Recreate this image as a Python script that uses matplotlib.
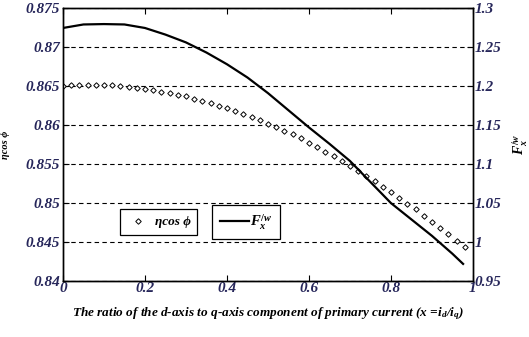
import numpy as np
import matplotlib
matplotlib.use("Agg")
import matplotlib.pyplot as plt
from matplotlib.lines import Line2D

plt.rcParams['font.family'] = ['Liberation Serif', 'DejaVu Serif']
plt.rcParams['mathtext.fontset'] = 'custom'
plt.rcParams['mathtext.it'] = 'Liberation Serif:italic:bold'
plt.rcParams['mathtext.rm'] = 'Liberation Serif:bold'
plt.rcParams['mathtext.bf'] = 'Liberation Serif:bold'

# eta*cos(phi) series (left axis), x = 0 .. 0.98 step 0.02
x_eta = [0.00, 0.02, 0.04, 0.06, 0.08, 0.10, 0.12, 0.14, 0.16, 0.18,
         0.20, 0.22, 0.24, 0.26, 0.28, 0.30, 0.32, 0.34, 0.36, 0.38,
         0.40, 0.42, 0.44, 0.46, 0.48, 0.50, 0.52, 0.54, 0.56, 0.58,
         0.60, 0.62, 0.64, 0.66, 0.68, 0.70, 0.72, 0.74, 0.76, 0.78,
         0.80, 0.82, 0.84, 0.86, 0.88, 0.90, 0.92, 0.94, 0.96, 0.98]
eta_cos = [0.8650, 0.8651, 0.8652, 0.8652, 0.8652, 0.8652, 0.8651, 0.8650, 0.8649, 0.8648,
           0.8646, 0.8645, 0.8643, 0.8641, 0.8639, 0.8637, 0.8634, 0.8631, 0.8628, 0.8625,
           0.8622, 0.8618, 0.8614, 0.8610, 0.8606, 0.8602, 0.8597, 0.8593, 0.8588, 0.8583,
           0.8577, 0.8572, 0.8566, 0.8560, 0.8554, 0.8548, 0.8541, 0.8535, 0.8528, 0.8521,
           0.8514, 0.8507, 0.8499, 0.8492, 0.8484, 0.8476, 0.8468, 0.8460, 0.8452, 0.8444]

# F_x/w series (right axis)
x_f = [0.00, 0.05, 0.10, 0.15, 0.20, 0.25, 0.30, 0.35, 0.40, 0.45,
       0.50, 0.55, 0.60, 0.65, 0.70, 0.75, 0.80, 0.85, 0.90, 0.95, 0.976]
f_w = [1.2745, 1.2790, 1.2795, 1.2790, 1.2745, 1.2660, 1.2560, 1.2430, 1.2280, 1.2110,
       1.1910, 1.1690, 1.1470, 1.1260, 1.1040, 1.0770, 1.0500, 1.0290, 1.0080, 0.9850, 0.9720]

xticks = [0, 0.2, 0.4, 0.6, 0.8, 1]
xtick_labels = ['0', '0.2', '0.4', '0.6', '0.8', '1']
yticks_left = [0.84, 0.845, 0.85, 0.855, 0.86, 0.865, 0.87, 0.875]
ytick_labels_left = ['0.84', '0.845', '0.85', '0.855', '0.86', '0.865', '0.87', '0.875']
yticks_right = [0.95, 1.0, 1.05, 1.1, 1.15, 1.2, 1.25, 1.3]
ytick_labels_right = ['0.95', '1', '1.05', '1.1', '1.15', '1.2', '1.25', '1.3']

tick_color = '#26265a'
tick_font = dict(fontsize=11, fontweight='bold', fontstyle='italic')

fig = plt.figure(figsize=(5.29, 3.37), dpi=100)
ax = fig.add_axes([0.119, 0.166, 0.775, 0.810])
ax2 = ax.twinx()

ax.plot(x_eta, eta_cos, linestyle='none', marker='D', markersize=2.8,
        markerfacecolor='white', markeredgecolor='black', markeredgewidth=0.7, zorder=3)
ax2.plot(x_f, f_w, color='black', linewidth=1.6, zorder=3)

ax.set_xlim(0, 1)
ax.set_ylim(0.84, 0.875)
ax2.set_ylim(0.95, 1.3)

ax.set_xticks(xticks)
ax.set_xticklabels(xtick_labels, color=tick_color, **tick_font)
ax.set_yticks(yticks_left)
ax.set_yticklabels(ytick_labels_left, color=tick_color, **tick_font)
ax2.set_yticks(yticks_right)
ax2.set_yticklabels(ytick_labels_right, color=tick_color, **tick_font)

ax.tick_params(direction='in', length=4, width=0.8, top=True, pad=2)
ax.tick_params(axis='x', pad=1)
ax2.tick_params(direction='in', length=4, width=0.8, pad=1)

ax.yaxis.grid(True, linestyle=(0, (4, 3)), color='black', linewidth=0.8)
ax.set_axisbelow(True)

for a in (ax, ax2):
    for s in a.spines.values():
        s.set_linewidth(1.0)
        s.set_color('black')

ax.set_xlabel('The ratio of the d-axis to q-axis component of primary current (x =i$_d$/i$_q$)',
              fontsize=9.5, fontstyle='italic', fontweight='bold')
ax.xaxis.set_label_coords(0.5, -0.088)
ax.set_ylabel('ηcos ϕ', fontsize=7.5, fontweight='bold', fontstyle='italic')
ax.yaxis.set_label_coords(-0.128, 0.5)
ax2.set_ylabel(r'$F_x^{/w}$', fontsize=10, rotation=90)
ax2.yaxis.set_label_coords(1.093, 0.5)

h1 = Line2D([], [], linestyle='none', marker='D', markersize=2.8,
            markerfacecolor='white', markeredgecolor='black', markeredgewidth=0.7)
h2 = Line2D([], [], color='black', linewidth=1.6)

leg_kw = dict(frameon=True, fancybox=False, edgecolor='black', framealpha=1,
              borderpad=0.5, handlelength=1.6, handletextpad=0.5,
              prop=dict(family='Liberation Serif', weight='bold', style='italic', size=9.5))
leg1 = ax.legend([h1], ['ηcos ϕ'], loc='center', bbox_to_anchor=(0.234, 0.216), **leg_kw)
leg1.get_frame().set_linewidth(0.9)
ax.add_artist(leg1)
leg2 = ax.legend([h2], [r'$F_x^{/w}$'], loc='center', bbox_to_anchor=(0.447, 0.216),
                 **{**leg_kw, 'handletextpad': 0.1, 'handlelength': 2.0,
                    'prop': dict(family='Liberation Serif', weight='bold', style='italic', size=10.5)})
leg2.get_frame().set_linewidth(0.9)

fig.savefig('out.png', dpi=100)
